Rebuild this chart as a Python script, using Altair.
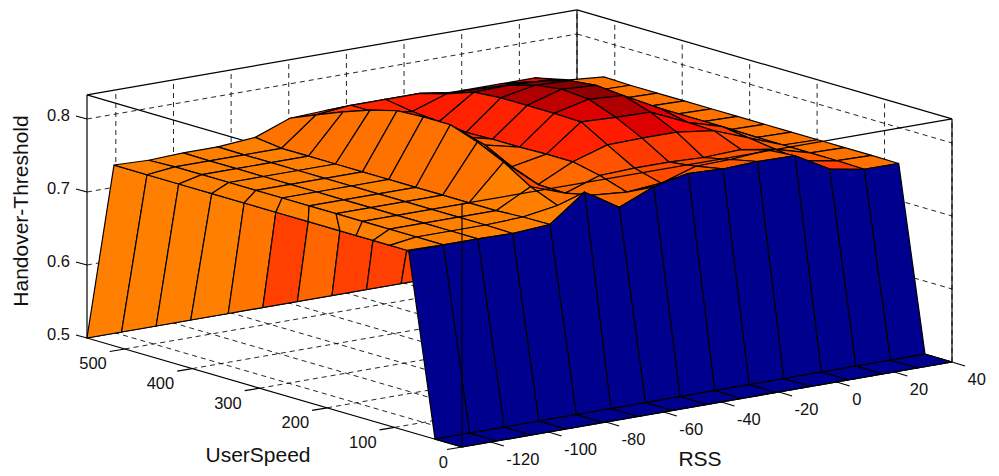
import altair as alt
import pandas as pd

FONT = "Liberation Sans"
RSS_VERT = [-130, -118, -106, -94, -81, -69, -57, -45, -33, -21, -9, 4, 16, 28, 40]
SPEED_VERT = [0, 40, 79, 119, 159, 199, 238, 278, 318, 357, 397, 437, 477, 516, 556]
# speed of the first column, rows 2..13
SPEED_EDGE = [82, 107, 132, 157, 181, 228, 276, 323, 371, 420, 467, 516]
# wall top-edge speeds, back to front
WALL_TOP = [516, 467, 420, 371, 323, 276, 228, 181, 132, 82, 82]
WALL_C = [.7475, .7475, .7475, .7475, .751, .768, .756, .768, .768, .768]
RSS_TICKS = [-120, -100, -80, -60, -40, -20, 0, 20, 40]
SPEED_TICKS = [0, 100, 200, 300, 400, 500]
Z_TICKS = [0.5, 0.6, 0.7, 0.8]
RMIN, RMAX, SMAX, ZMIN, ZMAX = -130, 40, 556, 0.5, 0.833

Z02 = [.7475, .7475, .7475, .7466, .75, .786, .757, .777, .787, .785, .787, .786, .7596, .751, .7507]
Z03 = [.7475, .7475, .7475, .7475, .7495, .757, .763, .759, .763, .778, .779, .783, .76, .752, .751]
Z04 = [.7475, .7475, .7475, .7475, .7475, .772, .755, .771, .773, .773, .771, .773, .765, .752, .751]
Z05 = [.7475, .7475, .7475, .7475, .7475, .795, .756, .779, .794, .795, .795, .788, .77, .752, .751]
Z06 = [.7475, .7475, .7475, .7475, .7475, .812, .77, .779, .815, .813, .812, .789, .775, .752, .751]
Z07 = [.7475, .7475, .7475, .7475, .7475, .825, .789, .778, .816, .827, .824, .797, .775, .752, .751]
Z08 = [.7475, .7475, .7475, .7475, .7475, .825, .79, .778, .816, .83, .827, .798, .77, .752, .751]
Z09 = [.7475, .7475, .7475, .7475, .7475, .823, .79, .777, .816, .825, .823, .798, .765, .752, .751]
Z10 = [.7475, .7475, .7475, .7475, .7475, .813, .79, .781, .813, .814, .812, .797, .76, .752, .751]
Z11 = [.7475, .7475, .7475, .7475, .7475, .80, .79, .784, .80, .799, .796, .79, .755, .752, .751]
Z12 = [.7475, .7475, .7475, .7475, .7475, .785, .79, .79, .79, .783, .781, .78, .774, .752, .751]
Z13 = [.7477, .746, .748, .748, .752, .77, .772, .772, .772, .767, .767, .767, .767, .756, .752]
Z = [Z02, Z03, Z04, Z05, Z06, Z07, Z08, Z09, Z10, Z11, Z12, Z13]

C02 = [.7475, .7475, .7475, .7475, .7475, .755, .755, .76, .76, .76, .755, .757, .768, .752]
C03 = [.7475, .7475, .7475, .7475, .7475, .752, .755, .76, .765, .765, .76, .76, .76, .752]
C04 = [.7475, .7475, .7475, .7475, .7475, .765, .755, .762, .77, .77, .768, .765, .757, .752]
C05 = [.7475, .7475, .7475, .7475, .752, .752, .756, .778, .78, .80, .785, .77, .76, .752]
C06 = [.7475, .7475, .7475, .7475, .752, .752, .756, .778, .80, .815, .80, .78, .76, .752]
C07 = [.7475, .7475, .7475, .7475, .752, .752, .757, .778, .81, .825, .805, .79, .76, .752]
C08 = [.7475, .7475, .7475, .7475, .752, .765, .775, .778, .815, .83, .815, .79, .755, .752]
C09 = [.7475, .7475, .7475, .7475, .752, .77, .778, .778, .815, .83, .82, .79, .755, .752]
C10 = [.7475, .7475, .7475, .7475, .752, .77, .778, .78, .815, .82, .82, .79, .752, .752]
C11 = [.7475, .7475, .7475, .7475, .752, .77, .778, .78, .80, .81, .81, .79, .752, .752]
C12 = [.7475, .7475, .7475, .7475, .752, .77, .778, .78, .79, .80, .80, .79, .76, .752]
C = [C02, C03, C04, C05, C06, C07, C08, C09, C10, C11, C12]


def proj(r, s, z):
    """Orthographic view of the 3-D axes, in chart pixels."""
    a = (r - RMIN) / (RMAX - RMIN)
    b = s / SMAX
    return (454 + 490 * a - 375 * b, 439 - 85 * a - 109 * b - (z - ZMIN) * 730)


def face(pts, c):
    ring = [list(proj(*p)) for p in pts]
    ring.append(ring[0])
    return {"type": "Feature", "properties": {"c": c},
            "geometry": {"type": "Polygon", "coordinates": [ring]}}


def seg(p, q):
    a, b = proj(*p), proj(*q)
    return {"x": a[0], "y": a[1], "x2": b[0], "y2": b[1]}


def sp(i, row):
    return SPEED_EDGE[row] if i == 0 else SPEED_VERT[row + 2]


faces = []
# side wall, bottom runs along the far floor edge
for k in range(10):
    faces.append(face([(RSS_VERT[k], SMAX, ZMIN), (RSS_VERT[k + 1], SMAX, ZMIN),
                       (RSS_VERT[0], WALL_TOP[k + 1], ZMIN + 0.2475),
                       (RSS_VERT[0], WALL_TOP[k], ZMIN + 0.2475)], WALL_C[k]))
# top surface, painted back to front
for row in range(10, -1, -1):
    for i in range(13, -1, -1):
        faces.append(face([(RSS_VERT[i], sp(i, row), Z[row][i]),
                           (RSS_VERT[i + 1], sp(i + 1, row), Z[row][i + 1]),
                           (RSS_VERT[i + 1], sp(i + 1, row + 1), Z[row + 1][i + 1]),
                           (RSS_VERT[i], sp(i, row + 1), Z[row + 1][i])], C[row][i]))
# front skirt and floor strip
for i in range(13, -1, -1):
    faces.append(face([(RSS_VERT[i], SPEED_VERT[1], ZMIN), (RSS_VERT[i + 1], SPEED_VERT[1], ZMIN),
                       (RSS_VERT[i + 1], sp(i + 1, 0), Z02[i + 1]), (RSS_VERT[i], sp(i, 0) if i else SPEED_VERT[2], Z02[i])], ZMIN))
for i in range(13, -1, -1):
    faces.append(face([(RSS_VERT[i], 0, ZMIN), (RSS_VERT[i + 1], 0, ZMIN),
                       (RSS_VERT[i + 1], SPEED_VERT[1], ZMIN), (RSS_VERT[i], SPEED_VERT[1], ZMIN)], ZMIN))

grid = []
for r in RSS_TICKS:
    grid.append(seg((r, 0, ZMIN), (r, SMAX, ZMIN)))
    grid.append(seg((r, SMAX, ZMIN), (r, SMAX, ZMAX)))
for s in SPEED_TICKS:
    grid.append(seg((RMIN, s, ZMIN), (RMAX, s, ZMIN)))
    grid.append(seg((RMAX, s, ZMIN), (RMAX, s, ZMAX)))
for z in Z_TICKS[1:]:
    grid.append(seg((RMIN, SMAX, z), (RMAX, SMAX, z)))
    grid.append(seg((RMAX, SMAX, z), (RMAX, 0, z)))

back_box = [
    seg((RMIN, SMAX, ZMIN), (RMIN, SMAX, ZMAX)),
    seg((RMAX, SMAX, ZMIN), (RMAX, SMAX, ZMAX)),
    seg((RMAX, 0, ZMIN), (RMAX, 0, ZMAX)),
    seg((RMIN, SMAX, ZMAX), (RMAX, SMAX, ZMAX)),
    seg((RMAX, SMAX, ZMAX), (RMAX, 0, ZMAX)),
    seg((RMIN, SMAX, ZMAX), (RMIN, 0, ZMAX)),
    seg((RMIN, SMAX, ZMIN), (RMAX, SMAX, ZMIN)),
    seg((RMAX, SMAX, ZMIN), (RMAX, 0, ZMIN)),
]
front_box = [
    seg((RMIN, 0, ZMIN), (RMIN, SMAX, ZMIN)),
    seg((RMIN, 0, ZMIN), (RMAX, 0, ZMIN)),
    seg((RMIN, 0, ZMIN), (RMIN, 0, ZMAX)),
    seg((RMIN, 0, ZMAX), (RMAX, 0, ZMAX)),
]
ticks, labels = [], []
for z in Z_TICKS:
    a = proj(RMIN, SMAX, z)
    ticks.append({"x": a[0], "y": a[1], "x2": a[0] - 11, "y2": a[1] - 3})
    labels.append({"x": a[0] - 17, "y": a[1] - 3, "t": f"{z:.1f}", "a": "right"})
for s in SPEED_TICKS:
    a = proj(RMIN, s, ZMIN)
    ticks.append({"x": a[0], "y": a[1], "x2": a[0] - 15, "y2": a[1] + 2.5})
    labels.append({"x": a[0] - 18 if s else a[0] - 14, "y": a[1] + 15.5, "t": str(s), "a": "right"})
for r in RSS_TICKS:
    a = proj(r, 0, ZMIN)
    ticks.append({"x": a[0], "y": a[1], "x2": a[0] + 13, "y2": a[1] + 4})
    labels.append({"x": a[0] + 15.5, "y": a[1] + 18, "t": str(r), "a": "left"})

X = alt.X("x:Q", scale=alt.Scale(domain=[0, 983], range=[0, 983]), axis=None)
Y = alt.Y("y:Q", scale=alt.Scale(domain=[0, 466], range=[0, 466]), axis=None)


def rules(rows, **style):
    return alt.Chart(pd.DataFrame(rows)).mark_rule(color="black", **style).encode(
        x=X, y=Y, x2="x2:Q", y2="y2:Q")


def text(rows, size, **style):
    return alt.Chart(pd.DataFrame(rows)).mark_text(font=FONT, fontSize=size, color="#111111",
                                                   baseline="middle", **style).encode(
        x=X, y=Y, text="t:N")


t = 0.33
surface = alt.Chart(alt.Data(values=faces)).mark_geoshape(stroke="black", strokeWidth=1.2).encode(
    color=alt.Color("properties.c:Q", legend=None, scale=alt.Scale(
        domain=[ZMIN, ZMIN + t * .125, ZMIN + t * .375, ZMIN + t * .625, ZMIN + t * .75, ZMIN + t * .875, ZMIN + t],
        range=["#00008f", "#0000ff", "#00ffff", "#ffff00", "#ff8000", "#ff0000", "#800000"],
        interpolate="rgb"))
).project(type="identity", scale=1, translate=[0, 0])

tick_text = text(labels[:4], 16.5, align="right") + text(labels[4:10], 16.5, align="right") + text(labels[10:], 16.5, align="left")
titles = (
    text([{"x": 692, "y": 452, "t": "RSS"}], 21, align="center")
    + text([{"x": 250, "y": 448, "t": "UserSpeed"}], 21, align="center")
    + text([{"x": 14, "y": 203, "t": "Handover-Threshold"}], 21, align="center", angle=270)
)

chart = alt.layer(
    rules(grid, strokeDash=[5, 4], strokeWidth=1, opacity=0.85),
    rules(back_box, strokeWidth=1.2),
    surface,
    rules(front_box, strokeWidth=1.2),
    rules(ticks, strokeWidth=1.2),
    tick_text,
    titles,
).properties(width=983, height=466, padding=0, autosize=alt.AutoSizeParams(type="none")).configure_view(stroke=None)

chart.save("out.html", embed_options={"renderer": "svg", "actions": False})
